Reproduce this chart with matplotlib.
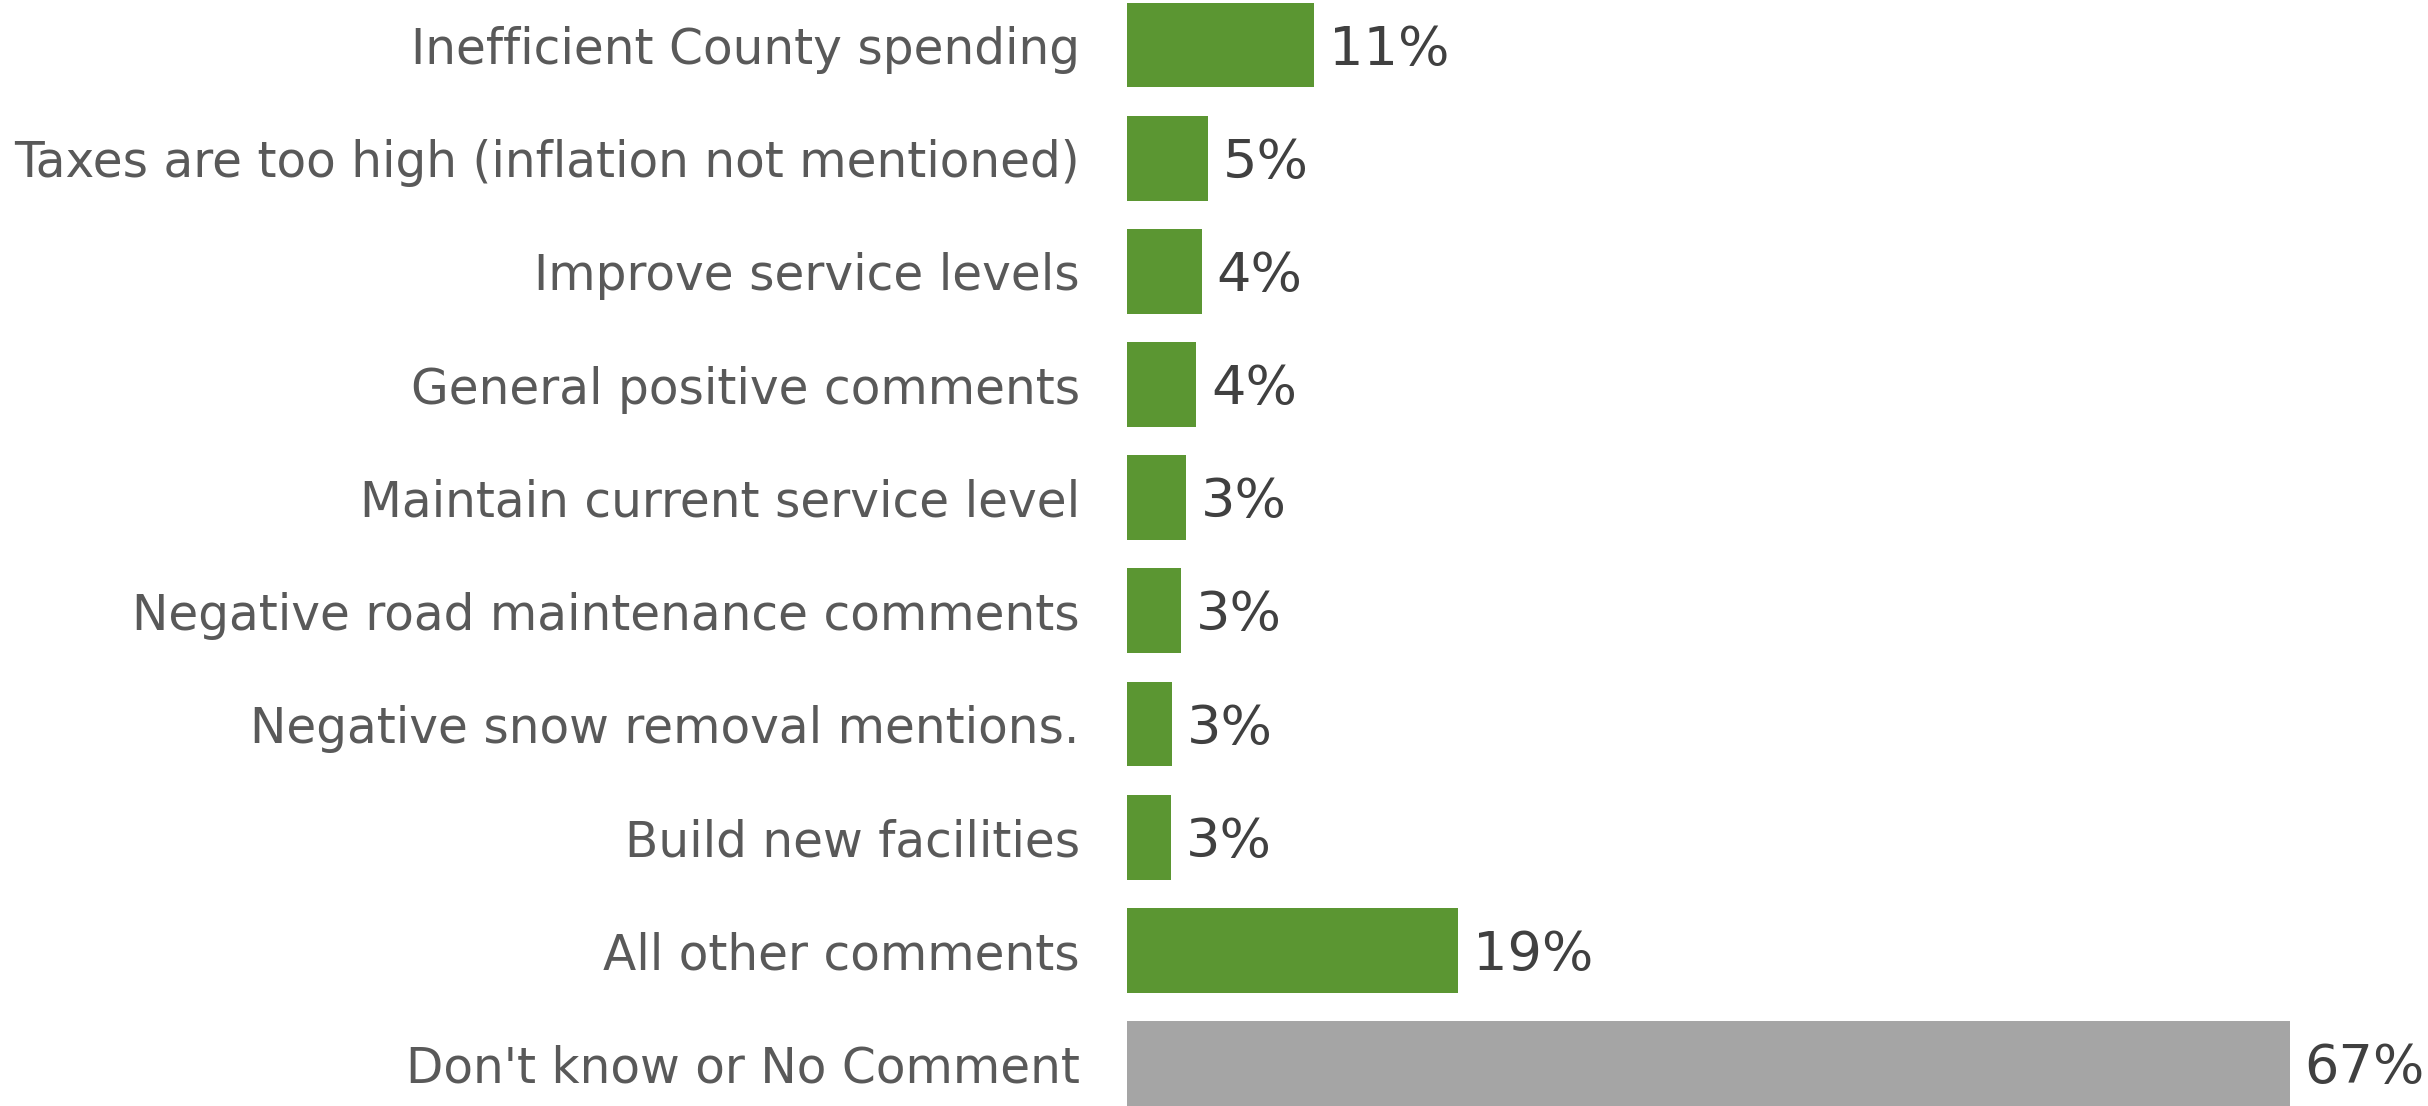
import matplotlib.pyplot as plt

categories = [
    "Inefficient County spending",
    "Taxes are too high (inflation not mentioned)",
    "Improve service levels",
    "General positive comments",
    "Maintain current service level",
    "Negative road maintenance comments",
    "Negative snow removal mentions.",
    "Build new facilities",
    "All other comments",
    "Don't know or No Comment",
]
values = [10.8, 4.65, 4.3, 4.0, 3.4, 3.1, 2.6, 2.55, 19.1, 67.0]
bar_colors = ["#5B9632"] * 9 + ["#A5A5A5"]

fig = plt.figure(figsize=(24.28, 11.06), dpi=100)
ax = fig.add_axes([0.4642, 0.0, 0.5002, 1.0])

pos = list(range(len(categories)))
ax.barh(pos, values, height=0.75, color=bar_colors)

# value labels to the right of each bar
for y, v in zip(pos, values):
    ax.text(v + 0.85, y + 0.04, f"{v:.0f}%", va="center", ha="left",
            fontsize=39, color="#404040")

ax.set_xlim(0, 70)
ax.set_ylim(9.376, -0.398)
ax.set_yticks(pos)
ax.set_yticklabels(categories, fontsize=35, color="#595959")
ax.tick_params(axis="y", length=0, pad=34)
ax.set_xticks([])
for side in ax.spines.values():
    side.set_visible(False)

fig.savefig("out.png", dpi=100)
